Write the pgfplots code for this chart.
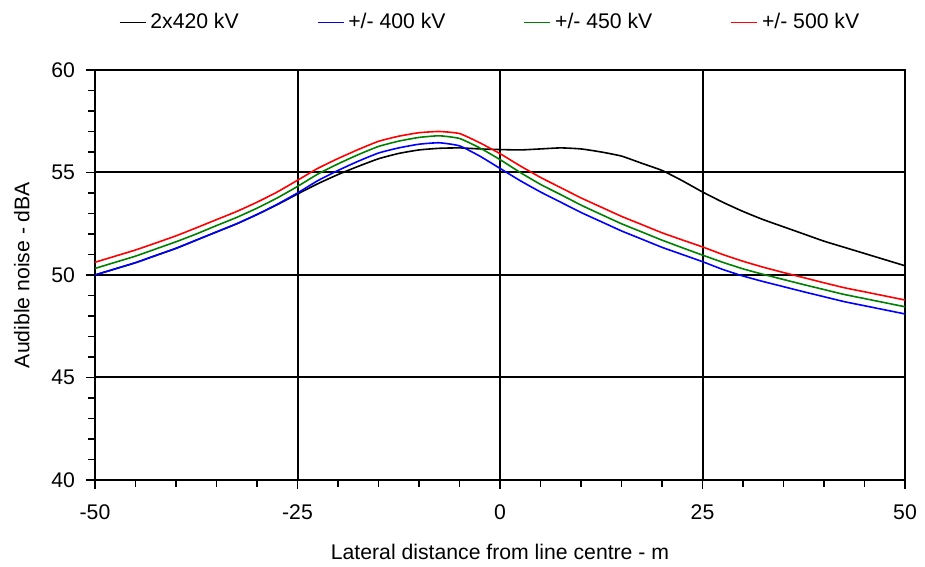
\documentclass[border=0pt]{standalone}
\usepackage{fontspec}
\setmainfont{Liberation Sans}
\usepackage{pgfplots}
\pgfplotsset{compat=1.18}
\usetikzlibrary{calc}
\definecolor{cgreen}{RGB}{0,128,0}
\pgfplotstableread{
x blk blu grn red
-50 50.0 50.0 50.32 50.62
-47.5 50.3 50.3 50.62 50.92
-45 50.6 50.6 50.92 51.22
-42.5 50.95 50.95 51.27 51.56
-40 51.3 51.3 51.62 51.91
-37.5 51.7 51.7 52.0 52.3
-35 52.1 52.1 52.41 52.7
-32.5 52.5 52.5 52.81 53.1
-30 52.95 52.95 53.26 53.55
-27.5 53.43 53.45 53.76 54.05
-25 53.95 54.0 54.32 54.62
-22.5 54.45 54.6 54.92 55.2
-20 54.9 55.1 55.42 55.68
-17.5 55.3 55.55 55.87 56.12
-15 55.67 55.95 56.27 56.52
-12.5 55.93 56.2 56.53 56.77
-10 56.1 56.38 56.71 56.94
-7.5 56.18 56.45 56.79 57.0
-5 56.2 56.3 56.66 56.9
-2.5 56.15 55.8 56.2 56.45
0 56.12 55.2 55.63 55.92
2.5 56.1 54.6 55.0 55.32
5 56.15 54.05 54.42 54.76
7.5 56.2 53.55 53.92 54.26
10 56.15 53.05 53.41 53.76
12.5 56.0 52.6 52.95 53.31
15 55.8 52.15 52.5 52.86
17.5 55.45 51.75 52.1 52.46
20 55.1 51.35 51.7 52.06
22.5 54.6 51.0 51.33 51.71
25 54.05 50.65 50.97 51.37
27.5 53.55 50.27 50.62 51.0
30 53.1 49.95 50.3 50.67
32.5 52.7 49.68 50.03 50.38
35 52.35 49.43 49.78 50.12
37.5 52.0 49.18 49.53 49.87
40 51.65 48.94 49.29 49.62
42.5 51.35 48.7 49.05 49.38
45 51.05 48.5 48.85 49.18
47.5 50.75 48.3 48.65 48.98
50 50.45 48.1 48.45 48.78
}\datatable
\begin{document}
\begin{tikzpicture}[font=\fontsize{10.6}{12.7}\selectfont]
\begin{axis}[
  scale only axis,
  width=405pt, height=205pt,
  xmin=-50, xmax=50, ymin=40, ymax=60,
  xtick={-50,-25,0,25,50},
  ytick={40,45,50,55,60},
  minor x tick num=4,
  minor y tick num=4,
  xtick pos=bottom, ytick pos=left,
  tick align=outside,
  major tick length=4.5pt, minor tick length=3.5pt,
  tick style={black, line width=0.7pt},
  grid=major,
  major grid style={black, line width=1pt},
  axis line style={black, line width=1pt},
  /pgf/number format/assume math mode=true,
  xticklabel style={yshift=-4.5pt},
  yticklabel style={xshift=-2pt},
  xlabel={Lateral distance from line centre - m},
  ylabel={Audible noise - dBA},
  xlabel style={yshift=-5pt},
  ylabel style={yshift=4pt},
  legend columns=4,
  legend style={draw=none, fill=none, at={(0.5,1)}, anchor=south, yshift=15pt, xshift=-4.5pt,
    /tikz/every even column/.append style={column sep=37pt}},
  legend image code/.code={\draw[#1] (0pt,0pt) -- (13pt,0pt);},
  every axis plot/.append style={line width=0.8pt},
]
\addplot[black, smooth, tension=0.3] table[x=x,y=blk]{\datatable};
\addlegendentry{2x420 kV}
\addplot[blue, smooth, tension=0.3] table[x=x,y=blu]{\datatable};
\addlegendentry{+/- 400 kV}
\addplot[cgreen, smooth, tension=0.3] table[x=x,y=grn]{\datatable};
\addlegendentry{+/- 450 kV}
\addplot[red, smooth, tension=0.3] table[x=x,y=red]{\datatable};
\addlegendentry{+/- 500 kV}
\coordinate (sw) at (rel axis cs:0,0);
\coordinate (ne) at (rel axis cs:1,1);
\end{axis}
\useasboundingbox ($(sw)+(-47.5pt,-42pt)$) rectangle ($(ne)+(10pt,35pt)$);
\end{tikzpicture}
\end{document}
